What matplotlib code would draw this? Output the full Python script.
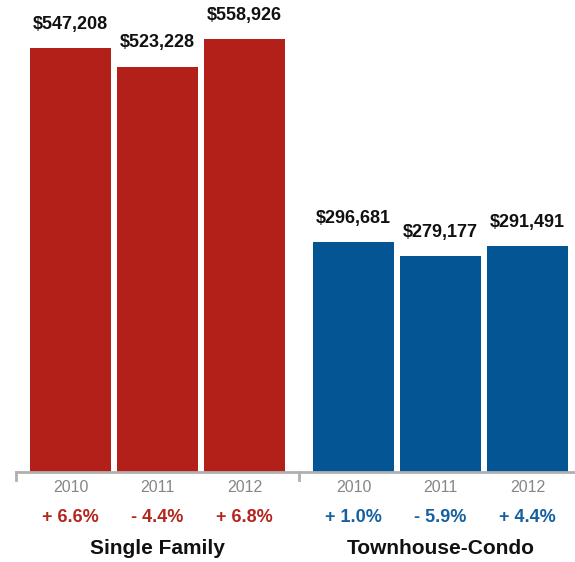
import matplotlib
matplotlib.use("Agg")
import matplotlib.pyplot as plt
from matplotlib.transforms import blended_transform_factory

plt.rcParams['font.family'] = ['Liberation Sans', 'DejaVu Sans']

# Median sales price by property type
groups = ["Single Family", "Townhouse-Condo"]
years = ["2010", "2011", "2012"]
prices = [[547208, 523228, 558926],
          [296681, 279177, 291491]]
changes = [["+ 6.6%", "- 4.4%", "+ 6.8%"],
           ["+ 1.0%", "- 5.9%", "+ 4.4%"]]

bar_colors = ["#B22019", "#035594"]
pct_colors = ["#B3261E", "#15609F"]

W, H = 575, 562
fig = plt.figure(figsize=(W / 100, H / 100), dpi=100)
base = 472
ax = fig.add_axes([0, (H - base) / H, 1, base / H])
ax.set_xlim(0, W)
ax.set_ylim(0, 547208 * 472 / 424)
ax.axis("off")

# layout in pixels
bar_w = 81
step = 87
group_off = 283
first = 70.5

tr = blended_transform_factory(ax.transData, fig.transFigure)

for g, name in enumerate(groups):
    xs = [first + g * group_off + i * step for i in range(len(years))]
    ax.bar(xs, prices[g], width=bar_w, color=bar_colors[g], linewidth=0)
    for x, v, yr, ch in zip(xs, prices[g], years, changes[g]):
        ax.annotate("${:,}".format(v), (x, v), xytext=(0, 17),
                    textcoords="offset points", ha="center", va="center",
                    fontsize=13, fontweight="bold", color="#111111")
        fig.text(x, 1 - 488 / H, yr, transform=tr, ha="center", va="center",
                 fontsize=11.5, color="#868686")
        fig.text(x, 1 - 518 / H, ch, transform=tr, ha="center", va="center",
                 fontsize=13, fontweight="bold", color=pct_colors[g])
    fig.text(xs[1], 1 - 548 / H, name, transform=tr, ha="center",
             va="center", fontsize=15, fontweight="bold", color="#111111")

# baseline with group ticks
line_kw = dict(color="#b0b0b0", linewidth=2, clip_on=False)
ax.plot([16, W], [0, 0], **line_kw)
for tx in [16, 299]:
    ax.plot([tx, tx], [0, -8 * 547208 / 424], **line_kw)

fig.savefig("out.png", dpi=100)
